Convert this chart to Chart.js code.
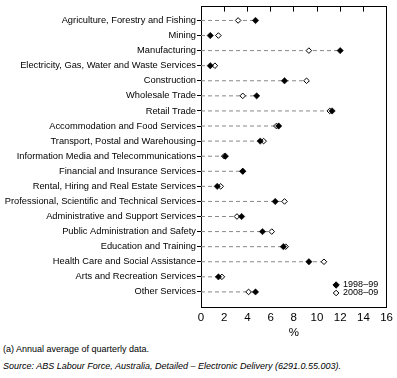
<!DOCTYPE html>
<html><head><meta charset="utf-8">
<script src="https://cdn.jsdelivr.net/npm/chart.js@4"></script>
<style>
html,body{margin:0;padding:0;background:#fff;}
#wrap{position:absolute;left:0;top:0;width:397px;height:340px;}
.note{position:absolute;left:3px;font-family:"Liberation Sans",Arial,sans-serif;font-size:9px;color:#000;white-space:nowrap;line-height:11px;}
</style></head><body>
<div id="wrap"><canvas id="c"></canvas></div>
<div class="note" style="top:344px">(a) Annual average of quarterly data.</div>
<div class="note" style="top:361px;font-style:italic">Source: ABS Labour Force, Australia, Detailed – Electronic Delivery (6291.0.55.003).</div>
<script>
const categories = [
  'Agriculture, Forestry and Fishing',
  'Mining',
  'Manufacturing',
  'Electricity, Gas, Water and Waste Services',
  'Construction',
  'Wholesale Trade',
  'Retail Trade',
  'Accommodation and Food Services',
  'Transport, Postal and Warehousing',
  'Information Media and Telecommunications',
  'Financial and Insurance Services',
  'Rental, Hiring and Real Estate Services',
  'Professional, Scientific and Technical Services',
  'Administrative and Support Services',
  'Public Administration and Safety',
  'Education and Training',
  'Health Care and Social Assistance',
  'Arts and Recreation Services',
  'Other Services'
];
const series1998 = [4.7, 0.8, 12.0, 0.8, 7.2, 4.8, 11.3, 6.7, 5.1, 2.1, 3.6, 1.4, 6.4, 3.5, 5.3, 7.1, 9.3, 1.5, 4.7];
const series2008 = [3.2, 1.5, 9.3, 1.2, 9.1, 3.6, 11.1, 6.5, 5.4, 2.0, 3.6, 1.7, 7.2, 3.1, 6.1, 7.3, 10.6, 1.8, 4.1];
const seriesNames = ['1998–99', '2008–09'];
const xMin = 0, xMax = 16, xStep = 2;
const axisTitle = '%';

Chart.defaults.font.family = '"Liberation Sans", Arial, sans-serif';
Chart.defaults.color = '#000';

const pts1998 = series1998.map((v, i) => ({x: v, y: i}));
const pts2008 = series2008.map((v, i) => ({x: v, y: i}));
const lineData = [];
categories.forEach((c, i) => {
  lineData.push({x: 0, y: i});
  lineData.push({x: Math.max(series1998[i], series2008[i]), y: i});
  lineData.push({x: null, y: null});
});

function diamond(ctx, x, y, r, fill) {
  ctx.beginPath();
  ctx.moveTo(x, y - r); ctx.lineTo(x + r, y); ctx.lineTo(x, y + r); ctx.lineTo(x - r, y); ctx.closePath();
  ctx.fillStyle = fill; ctx.fill();
  ctx.lineWidth = 1; ctx.strokeStyle = '#000'; ctx.stroke();
}
const legendIn = {
  id: 'legendIn',
  afterDraw(chart) {
    const {ctx, chartArea} = chart;
    const x = chartArea.right - 50.5;
    const ys = [chartArea.bottom - 22, chartArea.bottom - 14];
    ctx.save();
    ctx.font = '9px "Liberation Sans", Arial, sans-serif';
    ctx.textBaseline = 'middle';
    ctx.textAlign = 'left';
    diamond(ctx, x, ys[0], 3.2, '#000');
    diamond(ctx, x, ys[1], 2.8, '#fff');
    ctx.fillStyle = '#000';
    ctx.fillText(seriesNames[0], x + 7, ys[0]);
    ctx.fillText(seriesNames[1], x + 7, ys[1]);
    ctx.restore();
  }
};

new Chart(document.getElementById('c'), {
  type: 'scatter',
  data: {
    datasets: [
      {label: seriesNames[0], data: pts1998, pointStyle: 'rectRot', pointRadius: 3.2, backgroundColor: '#000', borderColor: '#000', borderWidth: 0.5},
      {label: seriesNames[1], data: pts2008, pointStyle: 'rectRot', pointRadius: 2.8, backgroundColor: '#fff', borderColor: '#000', borderWidth: 1},
      {label: 'guide', data: lineData, showLine: true, spanGaps: false, pointRadius: 0, borderColor: '#888', borderWidth: 1, borderDash: [4, 3]}
    ]
  },
  options: {
    responsive: true,
    maintainAspectRatio: false,
    animation: false,
    layout: {padding: {top: 5, right: 10, left: 0, bottom: 0}},
    plugins: {legend: {display: false}, tooltip: {enabled: false}},
    scales: {
      x: {
        type: 'linear', position: 'bottom', min: xMin, max: xMax,
        ticks: {stepSize: xStep, font: {size: 11.5}, color: '#000', padding: 4},
        grid: {drawOnChartArea: false, drawTicks: false},
        border: {display: true, color: '#000'},
        title: {display: true, text: axisTitle, font: {size: 11.5}, color: '#000', padding: {top: 0, bottom: 0}},
        afterFit: s => { s.height = 33; }
      },
      x2: {
        type: 'linear', position: 'top', min: xMin, max: xMax,
        ticks: {stepSize: xStep, display: false},
        grid: {drawOnChartArea: false, drawTicks: true, tickLength: -5, color: '#000'},
        border: {display: true, color: '#000'},
        afterFit: s => { s.height = 0; }
      },
      y: {
        type: 'linear', position: 'left', reverse: true, min: -0.92, max: 19,
        afterBuildTicks: s => { s.ticks = categories.map((c, i) => ({value: i})); },
        ticks: {autoSkip: false, callback: v => categories[v], font: {size: 9.3}, color: '#000', padding: 1},
        grid: {drawOnChartArea: false, drawTicks: true, tickLength: 4, color: '#000'},
        border: {display: true, color: '#000'},
        afterFit: s => { s.width = 201; }
      },
      y2: {
        type: 'linear', position: 'right', min: 0, max: 1,
        ticks: {display: false},
        grid: {drawOnChartArea: false, drawTicks: false},
        border: {display: true, color: '#000'},
        afterFit: s => { s.width = 0; }
      }
    }
  },
  plugins: [legendIn]
});
</script>
</body></html>
